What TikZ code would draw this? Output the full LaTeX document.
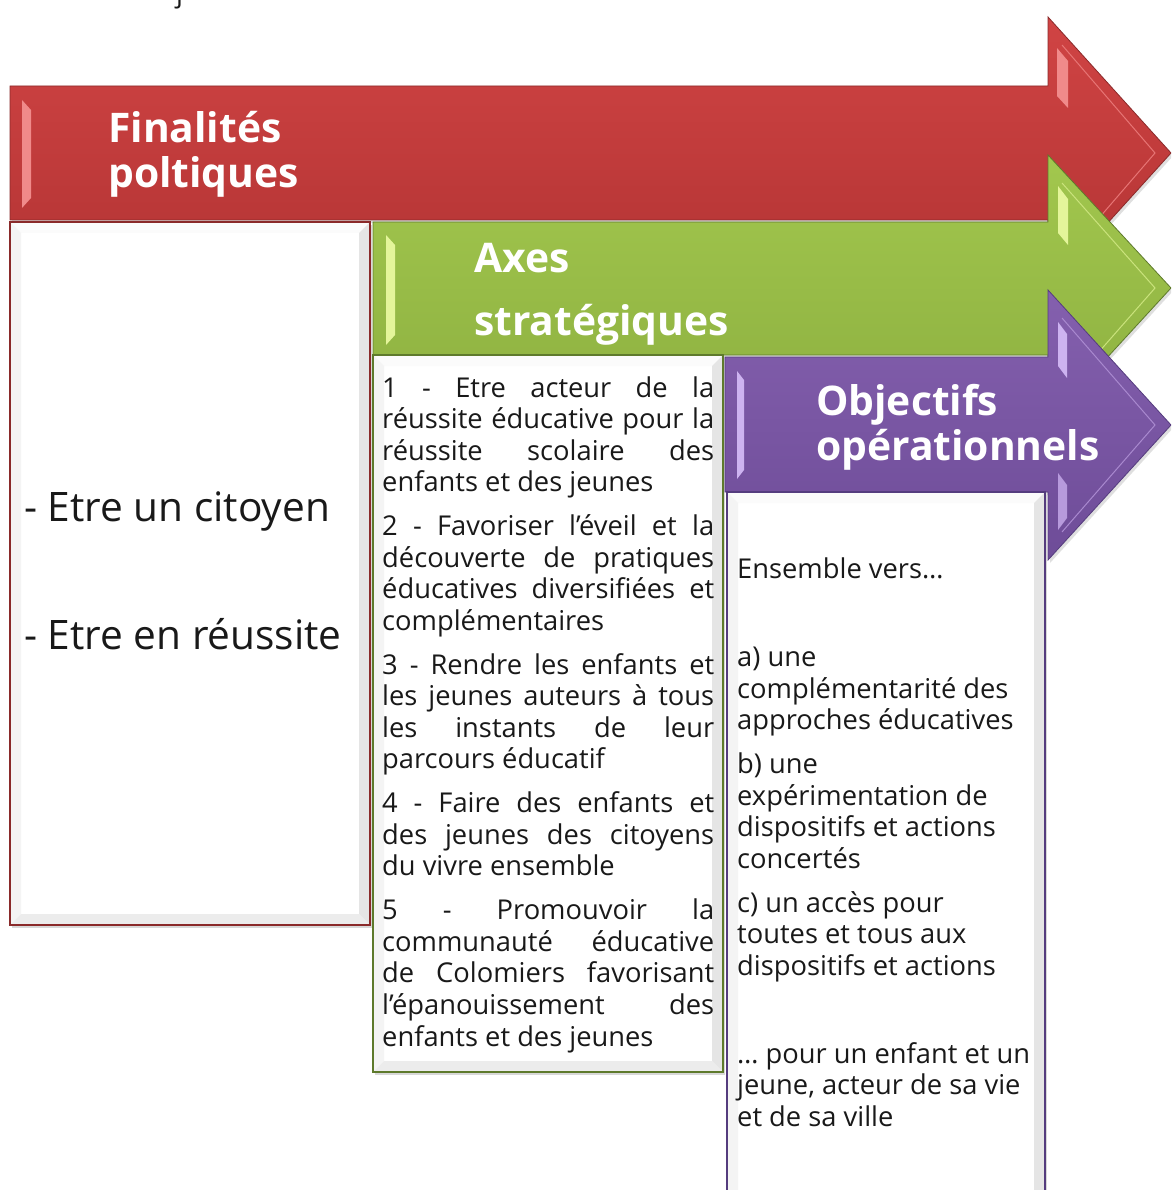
\documentclass[tikz,border=0pt]{standalone}
\usepackage{fontspec}
\setmainfont{Open Sans}
\usetikzlibrary{shadows}
\definecolor{redL}{HTML}{D04444}
\definecolor{redD}{HTML}{B23333}
\definecolor{redB}{HTML}{8A2A2A}
\definecolor{redH}{HTML}{F08A8A}
\definecolor{grnL}{HTML}{A2C74E}
\definecolor{grnD}{HTML}{8DB040}
\definecolor{grnB}{HTML}{5E7A2C}
\definecolor{grnH}{HTML}{E4F59A}
\definecolor{purL}{HTML}{8460AE}
\definecolor{purD}{HTML}{6E4C98}
\definecolor{purB}{HTML}{553C7E}
\definecolor{purH}{HTML}{CDB3F0}
\tikzset{
  arrowshape/.style={line width=0.8pt, drop shadow={shadow xshift=2pt, shadow yshift=-3pt, opacity=0.25}},
  boxshape/.style={fill=white, line width=1.6pt, drop shadow={shadow xshift=2pt, shadow yshift=-3pt, opacity=0.3}},
  titletext/.style={text=white, font=\fontsize{40.8}{45}\selectfont\bfseries, anchor=base west, inner sep=0pt},
  bodytext/.style={text=black!90, font=\fontsize{27.3}{31.5}\selectfont, anchor=base west, inner sep=0pt},
  bigtext/.style={text=black!90, font=\fontsize{40.6}{48}\selectfont, anchor=base west, inner sep=0pt}
}
\newcommand\JLine[3]{\node[bodytext] (#1) at (382,#2) {\makebox[332pt][s]{#3}};}
\newcommand\LLine[3]{\node[bodytext] (#1) at (382,#2) {#3};}
\newcommand\RLine[3]{\node[bodytext] (#1) at (737,#2) {#3};}
\newcommand\BevelBox[6]{%
  \fill[gray!3] (#1,#2) -- (#3,#2) -- ({#3-#5},{#2+#5}) -- ({#1+#5},{#2+#5}) -- cycle;
  \fill[gray!9] (#1,#2) -- ({#1+#5},{#2+#5}) -- ({#1+#5},{#4-#5}) -- (#1,#4) -- cycle;
  \fill[gray!20] (#3,#2) -- (#3,#4) -- ({#3-#5},{#4-#5}) -- ({#3-#5},{#2+#5}) -- cycle;
  \fill[gray!15] (#1,#4) -- (#3,#4) -- ({#3-#5},{#4-#5}) -- ({#1+#5},{#4-#5}) -- cycle;
  \draw[#6, line width=1.6pt] (#1,#2) rectangle (#3,#4);}
\begin{document}
\begin{tikzpicture}[x=1pt,y=-1pt]
\useasboundingbox (0,0) rectangle (1171,1190);
\fill[white] (0,0) rectangle (1171,1190);
\clip (0,0) rectangle (1171,1190);

% fragment of text above the frame
\node[bodytext] (frag) at (176,3) {j};

% ---------- red arrow ----------
\path[arrowshape, draw=redB, top color=redL, bottom color=redD]
  (10,86) -- (1048,86) -- (1048,17) -- (1171,153) -- (1048,289) -- (1048,220) -- (10,220) -- cycle;
\fill[redH] (22,100) -- (31,110) -- (31,198) -- (22,208) -- cycle;
\fill[redH] (1057,48) -- (1068,61) -- (1068,108) -- (1057,96) -- cycle;
\draw[redH!70!redL, line width=1pt] (1062,45) -- (1155,153) -- (1062,261);
\node[titletext] (fin1) at (108,143) {Finalités};
\node[titletext] (fin2) at (108,188) {poltiques};

% red box
\path[boxshape, draw=redB] (10,222) rectangle (370,925);
\BevelBox{10}{222}{370}{925}{11}{redB}
\node[bigtext] (c1a) at (24,521) {- Etre un citoyen};
\node[bigtext] (c1b) at (24,649) {- Etre en réussite};

% ---------- green arrow ----------
\path[arrowshape, draw=grnB, top color=grnL, bottom color=grnD]
  (373,222) -- (1048,222) -- (1048,155) -- (1171,288) -- (1048,422) -- (1048,355) -- (373,355) -- cycle;
\fill[grnH] (386,235) -- (395,245) -- (395,335) -- (386,345) -- cycle;
\fill[grnH] (1058,186) -- (1068,199) -- (1068,245) -- (1058,233) -- cycle;
\draw[grnH!60!grnL, line width=1pt] (1062,183) -- (1155,288) -- (1062,394);
\node[titletext] (ax1) at (474,272) {Axes};
\node[titletext] (ax2) at (474,335) {stratégiques};

% green box
\path[boxshape, draw=grnB] (373,355) rectangle (723,1072);
\BevelBox{373}{355}{723}{1072}{11}{grnB}
\JLine{p1a}{397}{1 - Etre acteur de la}
\JLine{p1b}{428}{réussite éducative pour la}
\JLine{p1c}{460}{réussite scolaire des}
\LLine{p1d}{491}{enfants et des jeunes}
\JLine{p2a}{535}{2 - Favoriser l’éveil et la}
\JLine{p2b}{567}{découverte de pratiques}
\JLine{p2c}{598}{éducatives diversifiées et}
\LLine{p2d}{630}{complémentaires}
\JLine{p3a}{674}{3 - Rendre les enfants et}
\JLine{p3b}{705}{les jeunes auteurs à tous}
\JLine{p3c}{737}{les instants de leur}
\LLine{p3d}{768}{parcours éducatif}
\JLine{p4a}{812}{4 - Faire des enfants et}
\JLine{p4b}{844}{des jeunes des citoyens}
\LLine{p4c}{875}{du vivre ensemble}
\JLine{p5a}{919}{5 - Promouvoir la}
\JLine{p5b}{951}{communauté éducative}
\JLine{p5c}{982}{de Colomiers favorisant}
\JLine{p5d}{1014}{l’épanouissement des}
\LLine{p5e}{1046}{enfants et des jeunes}

% ---------- purple arrow ----------
\path[arrowshape, draw=purB, top color=purL, bottom color=purD]
  (725,357) -- (1048,357) -- (1048,290) -- (1171,425) -- (1048,560) -- (1048,492) -- (725,492) -- cycle;
\fill[purH] (737,371) -- (744,380) -- (744,470) -- (737,479) -- cycle;
\fill[purH] (1058,322) -- (1067,334) -- (1067,378) -- (1058,366) -- cycle;
\fill[purH!70!purL] (1058,473) -- (1067,485) -- (1067,518) -- (1058,530) -- cycle;
\draw[purH!50!purL, line width=1pt] (1062,318) -- (1155,425) -- (1062,532);
\node[titletext] (ob1) at (816,415) {Objectifs};
\node[titletext] (ob2) at (816,460) {opérationnels};

% purple box
\path[boxshape, draw=purB] (727,492) rectangle (1045,1215);
\BevelBox{727}{492}{1045}{1215}{11}{purB}
\RLine{q0}{578}{Ensemble vers…}
\RLine{qa1}{666}{a) une}
\RLine{qa2}{698}{complémentarité des}
\RLine{qa3}{729}{approches éducatives}
\RLine{qb1}{773}{b) une}
\RLine{qb2}{805}{expérimentation de}
\RLine{qb3}{836}{dispositifs et actions}
\RLine{qb4}{868}{concertés}
\RLine{qc1}{912}{c) un accès pour}
\RLine{qc2}{943}{toutes et tous aux}
\RLine{qc3}{975}{dispositifs et actions}
\RLine{qd1}{1063}{… pour un enfant et un}
\RLine{qd2}{1094}{jeune, acteur de sa vie}
\RLine{qd3}{1126}{et de sa ville}
\end{tikzpicture}
\end{document}
